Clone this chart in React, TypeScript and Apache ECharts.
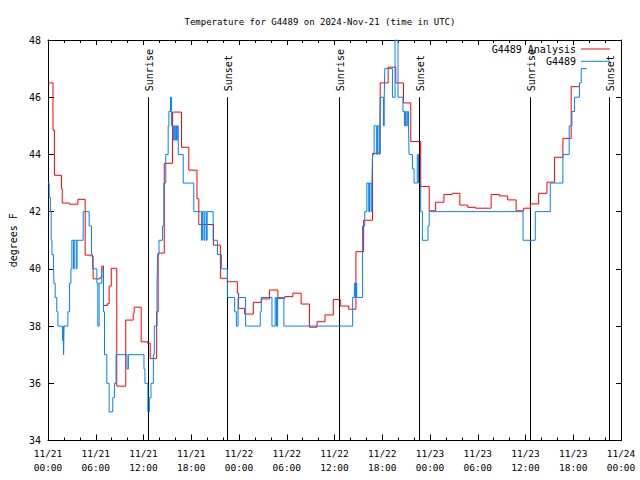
import React, { useEffect, useRef } from 'react';
import * as echarts from 'echarts';

const chartTitle = 'Temperature for G4489 on 2024-Nov-21 (time in UTC)';
const seriesNames = ['G4489 Analysis', 'G4489'];
const dayLabels = ['11/21', '11/22', '11/23', '11/24'];
const yAxisName = 'degrees F';

// [hours since 11/21 00:00 UTC, temperature °F] — value holds until next point
const analysisSteps: number[][] = [
  [0, 46.5], [0.63, 44.85], [0.81, 43.27], [1.69, 42.8], [1.79, 42.3], [2.69, 42.26], [3.76, 42.43],
  [4.67, 40.48], [5.38, 40.45], [5.67, 39.65], [6.55, 39.7], [6.76, 40.1], [6.97, 38.72], [7.45, 38.78],
  [7.68, 39.4], [7.95, 40.02], [8.64, 35.9], [9.77, 38.21], [10.71, 38.45], [10.83, 38.66], [11.71, 37.45],
  [12.52, 37.4], [12.84, 36.87], [13.65, 38.5], [13.84, 40.55], [14.61, 43.69], [15.65, 45.48],
  [16.78, 44.25], [17.69, 43.45], [18.72, 42.45], [18.95, 41.55], [20.79, 40.83], [21.66, 39.67],
  [22.54, 39.55], [23.79, 39.15], [23.95, 38.62], [24.71, 38.42], [25.8, 38.83], [26.8, 38.95],
  [27.84, 39.26], [28.89, 38.97], [29.74, 39.03], [30.77, 39.15], [31.81, 38.77], [32.85, 37.96],
  [33.81, 38.15], [34.81, 38.39], [35.85, 38.93], [36.73, 38.7], [37.78, 38.59], [38.69, 40.6],
  [39.66, 41.7], [40.78, 44.04], [41.74, 46.5], [42.74, 47.05], [43.7, 46.5], [44.67, 45.8],
  [45.58, 44.45], [46.83, 42.88], [47.9, 42.03], [48.71, 42.33], [49.75, 42.6], [50.8, 42.64],
  [51.75, 42.23], [52.75, 42.15], [53.72, 42.12], [55.68, 42.6], [56.72, 42.55], [57.76, 42.41],
  [58.82, 42.03], [59.77, 42.12], [60.61, 42.27], [61.65, 42.64], [62.7, 43.03], [63.65, 43.9],
  [64.7, 44.56], [65.74, 46.37], [66.74, 46.37],
];

const observedSteps: number[][] = [
  [0, 43], [0.15, 42.5], [0.3, 42], [0.4, 41], [0.5, 40.5], [0.7, 40], [0.75, 39.5], [0.9, 39],
  [1.1, 38.5], [1.25, 38], [1.84, 37.5], [1.9, 38], [1.96, 37], [2.02, 38], [2.5, 38.5], [2.71, 39.5],
  [2.88, 40], [3.0, 41], [3.2, 40], [3.3, 41], [3.55, 40], [3.65, 41], [4.42, 42], [5.17, 41.5],
  [5.47, 40.5], [5.6, 40], [6.14, 39.5], [6.26, 38], [6.42, 39.5], [6.76, 40], [6.97, 38.5], [7.1, 37],
  [7.39, 36], [7.68, 35], [8.14, 35.5], [8.35, 36], [8.55, 37], [9.93, 36.5], [10.1, 37], [12.06, 36.5],
  [12.18, 36], [12.55, 35], [12.74, 35.5], [12.94, 36], [13.24, 37], [13.36, 38], [13.7, 39.5],
  [13.78, 40.5], [13.95, 41], [14.4, 41.5], [14.56, 43], [14.8, 44], [15.1, 45], [15.19, 45.5],
  [15.4, 46], [15.53, 45], [15.75, 44.5], [15.85, 45], [15.95, 44.5], [16.05, 45], [16.15, 44.5],
  [16.25, 45], [16.37, 44], [16.99, 43], [18.32, 42], [19.28, 41], [19.4, 42], [19.6, 41], [19.7, 42],
  [19.9, 41], [20.0, 42], [20.75, 41], [21.29, 40.5], [21.79, 40], [22.54, 39], [23.45, 38.5],
  [23.67, 38], [23.88, 39], [24.83, 38], [26.67, 38.5], [26.8, 39], [28.14, 38], [28.55, 39],
  [28.71, 38], [28.85, 39], [29.64, 38], [38.28, 39], [38.5, 39.5], [38.6, 39], [38.7, 39.5],
  [38.8, 39], [39.53, 41.5], [39.8, 42], [40.07, 43], [40.3, 42], [40.4, 43], [40.6, 42], [40.7, 43],
  [40.78, 44], [40.98, 45], [41.3, 44], [41.4, 45], [41.6, 44], [41.7, 45], [41.74, 46], [42.15, 45],
  [42.25, 46], [42.32, 47], [43.28, 46], [43.61, 48], [43.98, 46], [44.3, 46], [44.6, 45.5],
  [44.8, 45], [44.9, 45.5], [45.0, 45], [45.15, 45.5], [45.3, 45], [45.37, 44], [45.79, 43.5],
  [46.0, 43], [46.4, 44], [46.55, 43], [46.83, 42], [47.04, 41], [47.75, 41.5], [47.9, 42],
  [59.69, 41], [61.23, 42], [63.11, 43], [64.7, 44], [65.49, 45], [65.83, 45.5], [66.16, 46],
  [66.78, 46.5], [67.0, 47], [67.7, 47],
];

const sunriseHours = [12.52, 36.6, 60.52];
const sunsetHours = [22.45, 46.62, 70.45];
const markerLabels = ['Sunrise', 'Sunset'];
const markerTopValue = 46;

const X_MIN = 0;
const X_MAX = 72;
const X_STEP = 6;
const Y_MIN = 34;
const Y_MAX = 48;
const Y_STEP = 2;

const FONT = '"DejaVu Sans Mono", monospace';
const RED = '#ff0000';
const BLUE = '#0080ff';

function xLabel(v: number): string {
  const day = Math.floor(v / 24);
  const hour = Math.round(v % 24);
  return `${dayLabels[day]}\n${String(hour).padStart(2, '0')}:00`;
}

export default function App() {
  const ref = useRef<HTMLDivElement>(null);

  useEffect(() => {
    if (!ref.current) return;
    const chart = echarts.init(ref.current, undefined, { renderer: 'svg' });

    const markerData = [
      ...sunriseHours.map((h) => [h, markerTopValue, 0]),
      ...sunsetHours.map((h) => [h, markerTopValue, 1]),
    ];

    const axisLine = { show: true, onZero: false, lineStyle: { color: '#000', width: 1 } };
    const labelStyle = { fontFamily: FONT, fontSize: 10, color: '#000' };

    chart.setOption({
      animation: false,
      backgroundColor: '#ffffff',
      title: {
        text: chartTitle,
        left: 'center',
        top: 12,
        textStyle: { fontFamily: FONT, fontSize: 9, color: '#000', fontWeight: 'normal' },
      },
      grid: { left: 46, right: 19, top: 40, bottom: 39.5, containLabel: false },
      xAxis: [
        {
          type: 'value', min: X_MIN, max: X_MAX, interval: X_STEP, position: 'bottom',
          axisLine,
          axisTick: { show: true, inside: true, length: 6, lineStyle: { color: '#000' } },
          minorTick: { show: true, splitNumber: 3, length: 3, lineStyle: { color: '#000' } },
          splitLine: { show: false },
          axisLabel: { ...labelStyle, fontSize: 9.5, formatter: xLabel, lineHeight: 14, margin: 6 },
        },
        {
          type: 'value', min: X_MIN, max: X_MAX, interval: X_STEP, position: 'top',
          axisLine,
          axisTick: { show: true, inside: true, length: 5, lineStyle: { color: '#000' } },
          minorTick: { show: true, splitNumber: 3, length: 3, lineStyle: { color: '#000' } },
          splitLine: { show: false },
          axisLabel: { show: false },
        },
      ],
      yAxis: [
        {
          type: 'value', min: Y_MIN, max: Y_MAX, interval: Y_STEP, position: 'left',
          name: yAxisName, nameLocation: 'middle', nameGap: 30, nameRotate: 90,
          nameTextStyle: labelStyle,
          axisLine,
          axisTick: { show: true, inside: true, length: 6, lineStyle: { color: '#000' } },
          splitLine: { show: false },
          axisLabel: { ...labelStyle, margin: 7 },
        },
        {
          type: 'value', min: Y_MIN, max: Y_MAX, interval: Y_STEP, position: 'right',
          axisLine,
          axisTick: { show: true, inside: true, length: 5, lineStyle: { color: '#000' } },
          splitLine: { show: false },
          axisLabel: { show: false },
        },
      ],
      legend: seriesNames.map((name, i) => ({
        data: [name],
        right: 30,
        top: 44 + i * 12.3,
        orient: 'vertical',
        align: 'right',
        icon: 'rect',
        itemWidth: 29,
        itemHeight: 1,
        itemGap: 0,
        padding: 0,
        selectedMode: false,
        textStyle: { ...labelStyle, padding: 0 },
      })),
      series: [
        {
          type: 'custom',
          xAxisIndex: 0,
          yAxisIndex: 0,
          data: markerData,
          z: 1,
          silent: true,
          renderItem: (_params: any, api: any) => {
            const h = api.value(0);
            const kind = api.value(2);
            const bottom = api.coord([h, Y_MIN]);
            const top = api.coord([h, api.value(1)]);
            const x = Math.round(bottom[0]) + 0.5;
            return {
              type: 'group',
              children: [
                {
                  type: 'line',
                  shape: { x1: x, y1: bottom[1], x2: x, y2: top[1] },
                  style: { stroke: '#000', lineWidth: 1 },
                },
                {
                  type: 'text',
                  x: x + 1,
                  y: top[1] - 6,
                  rotation: Math.PI / 2,
                  style: {
                    text: markerLabels[kind],
                    fill: '#000',
                    font: `10px ${FONT}`,
                    textAlign: 'left',
                    textVerticalAlign: 'middle',
                  },
                },
              ],
            };
          },
        },
        {
          name: seriesNames[0],
          type: 'line',
          step: 'end',
          data: analysisSteps,
          showSymbol: false,
          symbol: 'none',
          lineStyle: { color: RED, width: 1 },
          itemStyle: { color: RED },
          z: 2,
        },
        {
          name: seriesNames[1],
          type: 'line',
          step: 'end',
          data: observedSteps,
          showSymbol: false,
          symbol: 'none',
          lineStyle: { color: BLUE, width: 1 },
          itemStyle: { color: BLUE },
          z: 3,
        },
      ],
    });

    return () => chart.dispose();
  }, []);

  return (
    <div
      ref={ref}
      style={{ position: 'fixed', left: 0, top: 0, width: 640, height: 480, background: '#fff' }}
    />
  );
}
